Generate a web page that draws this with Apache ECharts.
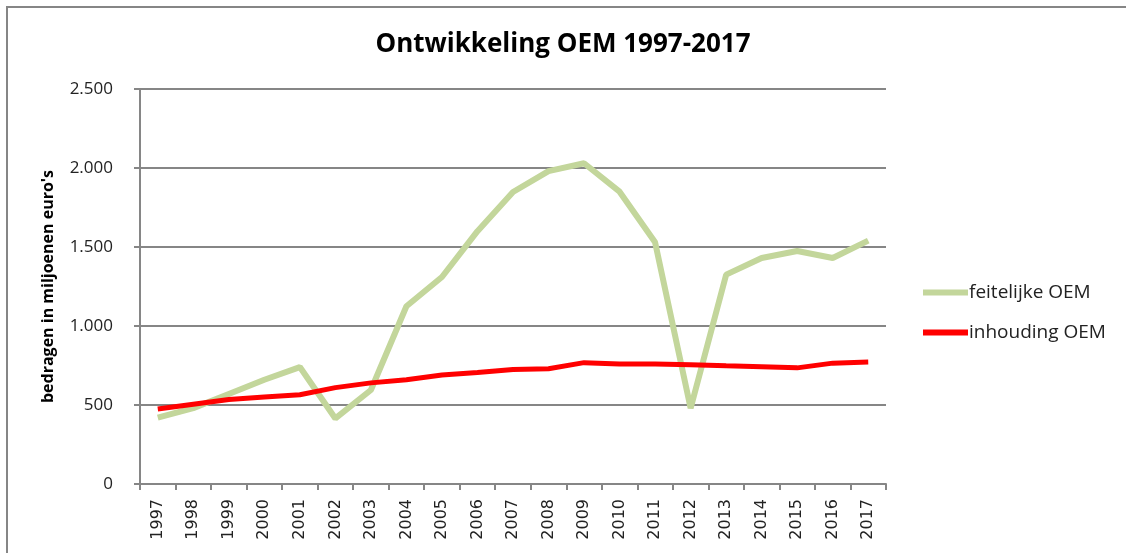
<!DOCTYPE html>
<html>
<head>
<meta charset="utf-8">
<script src="https://cdn.jsdelivr.net/npm/echarts@6/dist/echarts.min.js"></script>
<style>
html,body{margin:0;padding:0;background:#fff;}
#c{width:1126px;height:553px;}
</style>
</head>
<body>
<div id="c"></div>
<script>
const years = ['1997','1998','1999','2000','2001','2002','2003','2004','2005','2006','2007','2008','2009','2010','2011','2012','2013','2014','2015','2016','2017'];
const feitelijke = [420,480,570,660,740,415,595,1125,1310,1600,1848,1980,2030,1850,1530,480,1325,1430,1475,1430,1540];
const inhouding = [475,505,535,550,565,610,640,660,690,705,725,730,768,760,760,755,748,742,735,765,772];
const seriesNames = ['feitelijke OEM','inhouding OEM'];
const yTicks = [0,500,1000,1500,2000,2500];

const chart = echarts.init(document.getElementById('c'));
const font = '"Open Sans", "Noto Sans", sans-serif';
chart.setOption({
  animation:false,
  graphic:[{type:'rect',shape:{x:7,y:7,width:1200,height:600},style:{fill:'none',stroke:'#868686',lineWidth:2},silent:true}],
  title:{text:'Ontwikkeling OEM 1997-2017',left:'center',top:27,
    textStyle:{fontFamily:font,fontWeight:'bold',fontSize:26,color:'#000'}},
  legend:{orient:'vertical',left:918,top:278,itemGap:21,itemWidth:45,itemHeight:6,
    icon:'rect',itemStyle:{borderWidth:0},
    textStyle:{fontFamily:font,fontSize:19,color:'#222',padding:[0,0,0,-4]},
    data:seriesNames},
  grid:{left:140,top:89,right:240,bottom:69,containLabel:false},
  xAxis:{type:'category',data:years,boundaryGap:true,
    axisLine:{lineStyle:{color:'#868686',width:2}},
    axisTick:{show:true,length:6,lineStyle:{color:'#868686',width:2},alignWithLabel:false},
    axisLabel:{rotate:90,interval:0,fontFamily:'"DejaVu Sans", sans-serif',fontSize:16,color:'#222',margin:15}},
  yAxis:{type:'value',min:0,max:2500,interval:500,
    name:"bedragen in miljoenen euro's",nameLocation:'middle',nameGap:84,nameRotate:90,
    nameTextStyle:{fontFamily:font,fontWeight:'bold',fontSize:16,color:'#000'},
    axisLine:{show:true,lineStyle:{color:'#868686',width:2}},
    axisTick:{show:true,length:6,lineStyle:{color:'#868686',width:2}},
    splitLine:{lineStyle:{color:'#868686',width:2}},
    axisLabel:{fontFamily:font,fontSize:17,color:'#222',margin:27,
      formatter:v=>v.toLocaleString('de-DE')}},
  series:[
    {name:seriesNames[0],type:'line',data:feitelijke,symbol:'none',color:'#c3d69b',lineStyle:{width:6,color:'#c3d69b'}},
    {name:seriesNames[1],type:'line',data:inhouding,symbol:'none',color:'#ff0000',lineStyle:{width:5,color:'#ff0000'}}
  ]
});
</script>
</body>
</html>
